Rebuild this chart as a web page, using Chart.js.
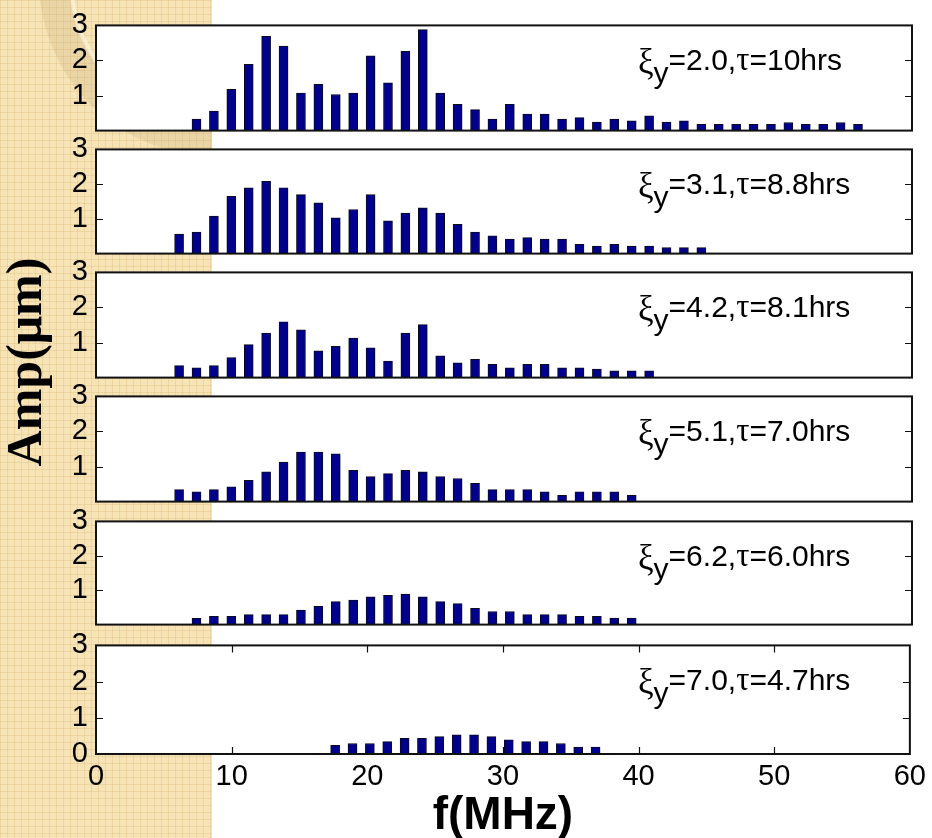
<!DOCTYPE html>
<html>
<head>
<meta charset="utf-8">
<script src="https://cdn.jsdelivr.net/npm/chart.js@4.4.1/dist/chart.umd.min.js"></script>
<style>
html,body{margin:0;padding:0;background:#fff;}
#wrap{position:relative;width:932px;height:838px;overflow:hidden;background:#fff;}
#strip{position:absolute;left:0;top:0;width:212px;height:838px;background-color:#f6e3b6;
  background-image:linear-gradient(rgba(214,178,112,0.28) 1px, transparent 1px),
                   linear-gradient(90deg, rgba(214,178,112,0.28) 1px, transparent 1px);
  background-size:7px 7px;overflow:hidden;}
#ring{position:absolute;left:39px;top:-196px;width:352px;height:352px;border-radius:50%;
  box-sizing:border-box;border:32px solid rgba(175,140,90,0.16);}
#ring2{position:absolute;left:69px;top:-166px;width:292px;height:292px;border-radius:50%;
  box-sizing:border-box;border:4px solid rgba(255,250,232,0.6);}
canvas{position:absolute;left:0;}
#ytitle{position:absolute;left:24px;top:362px;transform:translate(-50%,-50%) rotate(-90deg);
  font-family:"Liberation Serif","Times New Roman",serif;font-weight:bold;font-size:50px;
  white-space:nowrap;color:#000;}
</style>
</head>
<body>
<div id="wrap">
  <div id="strip"><div id="ring"></div><div id="ring2"></div></div>
  <div id="ytitle">Amp(μm)</div>
</div>
<script>
// ---------------- data ----------------
const FREQ_MHZ = [6.11, 7.39, 8.67, 9.95, 11.23, 12.51, 13.79, 15.07, 16.35, 17.63,
                  18.91, 20.19, 21.47, 22.75, 24.03, 25.31, 26.59, 27.87, 29.15, 30.43,
                  31.71, 32.99, 34.27, 35.55, 36.83, 38.11, 39.39, 40.67, 41.95, 43.23,
                  44.51, 45.79, 47.07, 48.35, 49.63, 50.91, 52.19, 53.47, 54.75, 56.03];

const AMP_XI20 = [null, 0.33, 0.56, 1.18, 1.89, 2.69, 2.41, 1.07, 1.32, 1.03,
                  1.07, 2.13, 1.36, 2.26, 2.88, 1.07, 0.75, 0.60, 0.33, 0.75,
                  0.47, 0.47, 0.33, 0.37, 0.24, 0.33, 0.28, 0.42, 0.24, 0.28,
                  0.18, 0.18, 0.18, 0.18, 0.18, 0.23, 0.18, 0.18, 0.23, 0.18];
const AMP_XI31 = [0.56, 0.62, 1.08, 1.65, 1.89, 2.08, 1.89, 1.70, 1.46, 1.03,
                  1.27, 1.70, 0.94, 1.17, 1.32, 1.17, 0.84, 0.62, 0.51, 0.42,
                  0.46, 0.42, 0.42, 0.27, 0.22, 0.27, 0.22, 0.22, 0.17, 0.17,
                  0.17];
const AMP_XI42 = [0.34, 0.28, 0.34, 0.57, 0.94, 1.27, 1.59, 1.36, 0.76, 0.89,
                  1.13, 0.85, 0.47, 1.27, 1.51, 0.62, 0.42, 0.52, 0.38, 0.28,
                  0.38, 0.38, 0.28, 0.28, 0.24, 0.19, 0.19, 0.19];
const AMP_XI51 = [0.34, 0.28, 0.34, 0.42, 0.61, 0.85, 1.13, 1.41, 1.41, 1.36,
                  0.89, 0.71, 0.80, 0.89, 0.85, 0.71, 0.66, 0.52, 0.34, 0.34,
                  0.34, 0.28, 0.18, 0.28, 0.28, 0.28, 0.18];
const AMP_XI62 = [null, 0.18, 0.24, 0.24, 0.29, 0.29, 0.29, 0.42, 0.53, 0.67,
                  0.71, 0.81, 0.85, 0.89, 0.81, 0.67, 0.61, 0.47, 0.38, 0.38,
                  0.29, 0.29, 0.29, 0.24, 0.24, 0.19, 0.19];
const AMP_XI70 = [null, null, null, null, null, null, null, null, null, 0.24,
                  0.29, 0.29, 0.34, 0.43, 0.43, 0.48, 0.53, 0.53, 0.48, 0.39,
                  0.34, 0.34, 0.29, 0.19, 0.19];

const XI_LABELS  = ["2.0", "3.1", "4.2", "5.1", "6.2", "7.0"];
const TAU_LABELS = ["10", "8.8", "8.1", "7.0", "6.0", "4.7"];
const Y_TICKS = [0, 1, 2, 3];
const X_TICKS = [0, 10, 20, 30, 40, 50, 60];
const X_TITLE = "f(MHz)";

const SERIES = [AMP_XI20, AMP_XI31, AMP_XI42, AMP_XI51, AMP_XI62, AMP_XI70];

// ---------------- layout ----------------
const PANEL_TOP = [20, 144, 267, 391, 516, 640];
const PANEL_BOTTOM = [136, 259, 383, 507, 630, 754];
const SANS = '"Liberation Sans", Arial, sans-serif';
const SERIF = '"Liberation Serif", "Times New Roman", serif';
const PAD = 20;

const framePlugin = {
  id: 'frame',
  beforeDraw(chart) {
    const {ctx, chartArea: a} = chart;
    ctx.save();
    ctx.fillStyle = '#ffffff';
    ctx.fillRect(a.left, a.top, a.right - a.left, a.bottom - a.top);
    ctx.restore();
  },
  afterDatasetsDraw(chart, args, opts) {
    const {ctx, chartArea: a} = chart;
    const ys = chart.scales.y, xs = chart.scales.x;
    ctx.save();
    ctx.strokeStyle = '#111';
    ctx.lineWidth = 1.2;
    ctx.beginPath();
    Y_TICKS.forEach(v => {
      if (v === 0) return;
      const py = Math.round(ys.getPixelForValue(v)) + 0.5;
      ctx.moveTo(a.left, py); ctx.lineTo(a.left + 7, py);
      ctx.moveTo(a.right, py); ctx.lineTo(a.right - 7, py);
    });
    if (opts.xticks) {
      X_TICKS.forEach(v => {
        if (v === 0 || v === 60) return;
        const px = Math.round(xs.getPixelForValue(v)) + 0.5;
        ctx.moveTo(px, a.top); ctx.lineTo(px, a.top + 7);
        ctx.moveTo(px, a.bottom); ctx.lineTo(px, a.bottom - 7);
      });
    }
    ctx.stroke();
    ctx.lineWidth = 2;
    ctx.strokeStyle = '#111';
    ctx.strokeRect(a.left, a.top, a.right - a.left, a.bottom - a.top);
    // annotation
    const x0 = 638, base = a.top + 45;
    ctx.fillStyle = '#000';
    ctx.textBaseline = 'alphabetic';
    ctx.textAlign = 'left';
    let x = x0;
    ctx.font = '35px ' + SERIF;
    ctx.fillText('ξ', x, base + 3); x += ctx.measureText('ξ').width;
    ctx.font = '30px ' + SANS;
    ctx.fillText('y', x, base + 13); x += ctx.measureText('y').width;
    const s1 = '=' + opts.xi + ',';
    ctx.fillText(s1, x, base); x += ctx.measureText(s1).width;
    ctx.font = '33px ' + SERIF;
    ctx.fillText('τ', x, base); x += ctx.measureText('τ').width;
    ctx.font = '30px ' + SANS;
    ctx.fillText('=' + opts.tau + 'hrs', x, base);
    ctx.restore();
  }
};

const wrap = document.getElementById('wrap');

SERIES.forEach((amps, i) => {
  const isLast = i === SERIES.length - 1;
  const top = PANEL_TOP[i], bot = PANEL_BOTTOM[i];
  const cTop = top - PAD;
  const cH = isLast ? 838 - cTop : (bot - top) + 2 * PAD;
  const cv = document.createElement('canvas');
  cv.width = 932; cv.height = cH;
  cv.style.top = cTop + 'px';
  cv.style.width = '932px'; cv.style.height = cH + 'px';
  wrap.appendChild(cv);

  const pts = [];
  amps.forEach((v, k) => { if (v !== null) pts.push({x: FREQ_MHZ[k], y: v}); });

  const xScale = {
    type: 'linear', min: 0, max: 60, offset: false,
    display: isLast,
    grid: {display: false, drawTicks: false},
    border: {display: false},
    afterBuildTicks: s => { s.ticks = X_TICKS.map(v => ({value: v})); },
    ticks: {font: {family: SANS, size: 29}, color: '#000', padding: 6,
            maxRotation: 0, autoSkip: false},
    title: {display: isLast, text: X_TITLE, color: '#000', padding: 0,
            font: {family: SANS, size: 46, weight: 'bold', lineHeight: 0.95}}
  };
  if (isLast) xScale.afterFit = s => { s.height = 838 - 754; };

  new Chart(cv, {
    type: 'bar',
    data: {
      datasets: [{
        data: pts,
        backgroundColor: '#00008c',
        borderColor: '#0a0a20',
        borderWidth: 1,
        barThickness: 9,
        borderSkipped: false
      }]
    },
    options: {
      responsive: false,
      animation: false,
      devicePixelRatio: 1,
      layout: {padding: {left: 0, right: 20, top: PAD, bottom: isLast ? 0 : PAD}},
      plugins: {
        legend: {display: false},
        tooltip: {enabled: false},
        frame: {xi: XI_LABELS[i], tau: TAU_LABELS[i], xticks: isLast}
      },
      scales: {
        x: xScale,
        y: {
          min: 0, max: 3,
          grid: {display: false, drawTicks: false},
          border: {display: false},
          afterBuildTicks: s => { s.ticks = Y_TICKS.map(v => ({value: v})); },
          ticks: {font: {family: SANS, size: 29}, color: '#000', padding: 8,
                  autoSkip: false,
                  callback: v => (v === 0 && !isLast) ? '' : String(v)},
          afterFit: s => { s.width = 96; }
        }
      }
    },
    plugins: [framePlugin]
  });
});
</script>
</body>
</html>
